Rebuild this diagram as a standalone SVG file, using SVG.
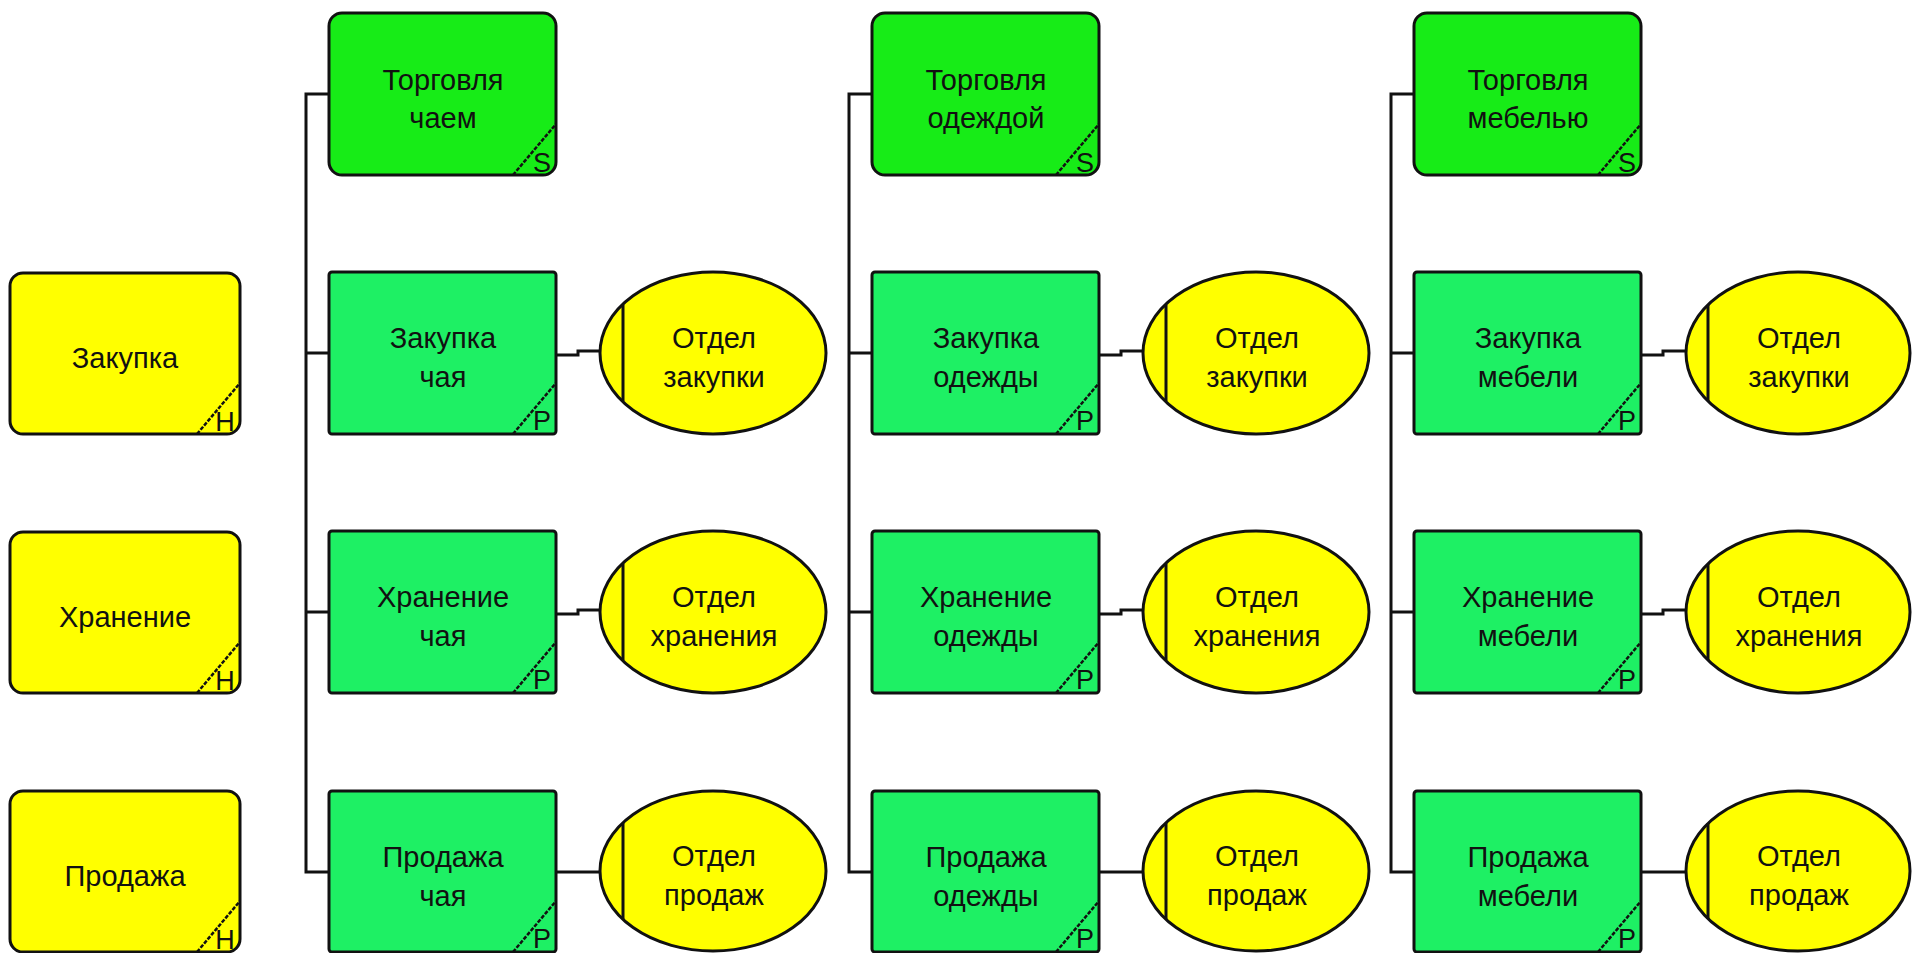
<svg xmlns="http://www.w3.org/2000/svg" width="1913" height="953" viewBox="0 0 1913 953">
  <style>
    .box { stroke: #111; stroke-width: 3; }
    .func { fill: #1ef064; }
    .top { fill: #17ec17; }
    .side { fill: #ffff00; }
    .org { fill: #ffff00; stroke: #111; stroke-width: 3; }
    .wire { fill: none; stroke: #111; stroke-width: 3; }
    .diag { fill: none; stroke: #111; stroke-width: 2.5; stroke-dasharray: 4 1.5; }
    .lbl { font-family: "Liberation Sans", Arial, sans-serif; font-size: 29px; fill: #111; text-anchor: middle; }
    .tag { font-family: "Liberation Sans", Arial, sans-serif; font-size: 27px; fill: #111; text-anchor: middle; }
  </style>
  <rect width="1913" height="953" fill="#ffffff"/>

  <!-- connectors -->
  <g id="connectors">
    <!-- column 1 bus -->
    <path class="wire" d="M329,94 H306 V872 H329 M306,353 H329 M306,612 H329"/>
    <path class="wire" d="M556,355 H578 V351 H600 M556,614 H578 V610 H600 M556,872 H600"/>
    <!-- column 2 bus -->
    <path class="wire" d="M872,94 H849 V872 H872 M849,353 H872 M849,612 H872"/>
    <path class="wire" d="M1099,355 H1121 V351 H1143 M1099,614 H1121 V610 H1143 M1099,872 H1143"/>
    <!-- column 3 bus -->
    <path class="wire" d="M1414,94 H1391 V872 H1414 M1391,353 H1414 M1391,612 H1414"/>
    <path class="wire" d="M1641,355 H1663 V351 H1685 M1641,614 H1663 V610 H1685 M1641,872 H1685"/>
  </g>

  <!-- left column: generic functions -->
  <g id="n-zakupka">
    <rect class="box side" x="10" y="273" width="230" height="161" rx="13"/>
    <path class="diag" d="M197,434 L240,383"/>
    <text class="tag" x="225" y="431">H</text>
    <text class="lbl" x="125" y="368">Закупка</text>
  </g>
  <g id="n-hranenie">
    <rect class="box side" x="10" y="532" width="230" height="161" rx="13"/>
    <path class="diag" d="M197,693 L240,642"/>
    <text class="tag" x="225" y="690">H</text>
    <text class="lbl" x="125" y="627">Хранение</text>
  </g>
  <g id="n-prodazha">
    <rect class="box side" x="10" y="791" width="230" height="161" rx="13"/>
    <path class="diag" d="M197,952 L240,901"/>
    <text class="tag" x="225" y="949">H</text>
    <text class="lbl" x="125" y="886">Продажа</text>
  </g>

  <!-- column 1: tea -->
  <g id="n-tea">
    <rect class="box top" x="329" y="13" width="227" height="162" rx="13"/>
    <path class="diag" d="M513,175 L556,124"/>
    <text class="tag" x="542" y="172">S</text>
    <text class="lbl" x="443" y="90">Торговля</text>
    <text class="lbl" x="443" y="128">чаем</text>
  </g>
  <g id="n-tea-buy">
    <rect class="box func" x="329" y="272" width="227" height="162" rx="3"/>
    <path class="diag" d="M513,434 L556,383"/>
    <text class="tag" x="542" y="430">P</text>
    <text class="lbl" x="443" y="348">Закупка</text>
    <text class="lbl" x="443" y="387">чая</text>
  </g>
  <g id="n-tea-store">
    <rect class="box func" x="329" y="531" width="227" height="162" rx="3"/>
    <path class="diag" d="M513,693 L556,642"/>
    <text class="tag" x="542" y="689">P</text>
    <text class="lbl" x="443" y="607">Хранение</text>
    <text class="lbl" x="443" y="646">чая</text>
  </g>
  <g id="n-tea-sell">
    <rect class="box func" x="329" y="791" width="227" height="161" rx="3"/>
    <path class="diag" d="M513,952 L556,901"/>
    <text class="tag" x="542" y="948">P</text>
    <text class="lbl" x="443" y="867">Продажа</text>
    <text class="lbl" x="443" y="906">чая</text>
  </g>
  <g id="o-tea-buy">
    <ellipse class="org" cx="713" cy="353" rx="113" ry="81"/>
    <line class="wire" x1="623" y1="305" x2="623" y2="401"/>
    <text class="lbl" x="714" y="348">Отдел</text>
    <text class="lbl" x="714" y="387">закупки</text>
  </g>
  <g id="o-tea-store">
    <ellipse class="org" cx="713" cy="612" rx="113" ry="81"/>
    <line class="wire" x1="623" y1="564" x2="623" y2="660"/>
    <text class="lbl" x="714" y="607">Отдел</text>
    <text class="lbl" x="714" y="646">хранения</text>
  </g>
  <g id="o-tea-sell">
    <ellipse class="org" cx="713" cy="871" rx="113" ry="80"/>
    <line class="wire" x1="623" y1="823" x2="623" y2="919"/>
    <text class="lbl" x="714" y="866">Отдел</text>
    <text class="lbl" x="714" y="905">продаж</text>
  </g>

  <!-- column 2: clothing -->
  <g id="n-cloth">
    <rect class="box top" x="872" y="13" width="227" height="162" rx="13"/>
    <path class="diag" d="M1056,175 L1099,124"/>
    <text class="tag" x="1085" y="172">S</text>
    <text class="lbl" x="986" y="90">Торговля</text>
    <text class="lbl" x="986" y="128">одеждой</text>
  </g>
  <g id="n-cloth-buy">
    <rect class="box func" x="872" y="272" width="227" height="162" rx="3"/>
    <path class="diag" d="M1056,434 L1099,383"/>
    <text class="tag" x="1085" y="430">P</text>
    <text class="lbl" x="986" y="348">Закупка</text>
    <text class="lbl" x="986" y="387">одежды</text>
  </g>
  <g id="n-cloth-store">
    <rect class="box func" x="872" y="531" width="227" height="162" rx="3"/>
    <path class="diag" d="M1056,693 L1099,642"/>
    <text class="tag" x="1085" y="689">P</text>
    <text class="lbl" x="986" y="607">Хранение</text>
    <text class="lbl" x="986" y="646">одежды</text>
  </g>
  <g id="n-cloth-sell">
    <rect class="box func" x="872" y="791" width="227" height="161" rx="3"/>
    <path class="diag" d="M1056,952 L1099,901"/>
    <text class="tag" x="1085" y="948">P</text>
    <text class="lbl" x="986" y="867">Продажа</text>
    <text class="lbl" x="986" y="906">одежды</text>
  </g>
  <g id="o-cloth-buy">
    <ellipse class="org" cx="1256" cy="353" rx="113" ry="81"/>
    <line class="wire" x1="1166" y1="305" x2="1166" y2="401"/>
    <text class="lbl" x="1257" y="348">Отдел</text>
    <text class="lbl" x="1257" y="387">закупки</text>
  </g>
  <g id="o-cloth-store">
    <ellipse class="org" cx="1256" cy="612" rx="113" ry="81"/>
    <line class="wire" x1="1166" y1="564" x2="1166" y2="660"/>
    <text class="lbl" x="1257" y="607">Отдел</text>
    <text class="lbl" x="1257" y="646">хранения</text>
  </g>
  <g id="o-cloth-sell">
    <ellipse class="org" cx="1256" cy="871" rx="113" ry="80"/>
    <line class="wire" x1="1166" y1="823" x2="1166" y2="919"/>
    <text class="lbl" x="1257" y="866">Отдел</text>
    <text class="lbl" x="1257" y="905">продаж</text>
  </g>

  <!-- column 3: furniture -->
  <g id="n-furn">
    <rect class="box top" x="1414" y="13" width="227" height="162" rx="13"/>
    <path class="diag" d="M1598,175 L1641,124"/>
    <text class="tag" x="1627" y="172">S</text>
    <text class="lbl" x="1528" y="90">Торговля</text>
    <text class="lbl" x="1528" y="128">мебелью</text>
  </g>
  <g id="n-furn-buy">
    <rect class="box func" x="1414" y="272" width="227" height="162" rx="3"/>
    <path class="diag" d="M1598,434 L1641,383"/>
    <text class="tag" x="1627" y="430">P</text>
    <text class="lbl" x="1528" y="348">Закупка</text>
    <text class="lbl" x="1528" y="387">мебели</text>
  </g>
  <g id="n-furn-store">
    <rect class="box func" x="1414" y="531" width="227" height="162" rx="3"/>
    <path class="diag" d="M1598,693 L1641,642"/>
    <text class="tag" x="1627" y="689">P</text>
    <text class="lbl" x="1528" y="607">Хранение</text>
    <text class="lbl" x="1528" y="646">мебели</text>
  </g>
  <g id="n-furn-sell">
    <rect class="box func" x="1414" y="791" width="227" height="161" rx="3"/>
    <path class="diag" d="M1598,952 L1641,901"/>
    <text class="tag" x="1627" y="948">P</text>
    <text class="lbl" x="1528" y="867">Продажа</text>
    <text class="lbl" x="1528" y="906">мебели</text>
  </g>
  <g id="o-furn-buy">
    <ellipse class="org" cx="1798" cy="353" rx="112" ry="81"/>
    <line class="wire" x1="1708" y1="305" x2="1708" y2="401"/>
    <text class="lbl" x="1799" y="348">Отдел</text>
    <text class="lbl" x="1799" y="387">закупки</text>
  </g>
  <g id="o-furn-store">
    <ellipse class="org" cx="1798" cy="612" rx="112" ry="81"/>
    <line class="wire" x1="1708" y1="564" x2="1708" y2="660"/>
    <text class="lbl" x="1799" y="607">Отдел</text>
    <text class="lbl" x="1799" y="646">хранения</text>
  </g>
  <g id="o-furn-sell">
    <ellipse class="org" cx="1798" cy="871" rx="112" ry="80"/>
    <line class="wire" x1="1708" y1="823" x2="1708" y2="919"/>
    <text class="lbl" x="1799" y="866">Отдел</text>
    <text class="lbl" x="1799" y="905">продаж</text>
  </g>
</svg>
